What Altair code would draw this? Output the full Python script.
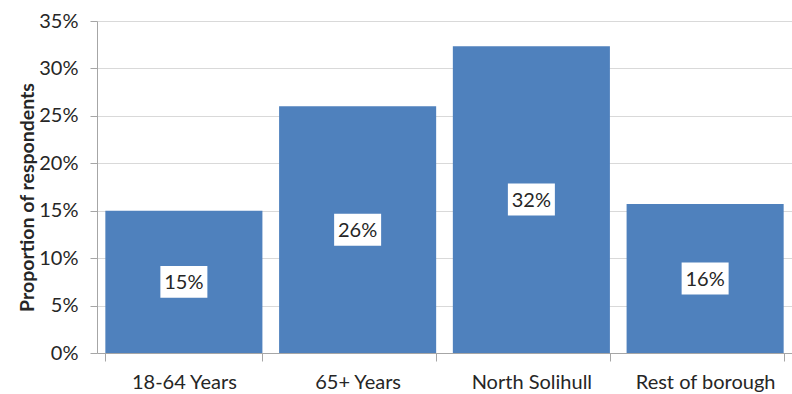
import altair as alt
import pandas as pd

# Survey results by respondent group
groups = ["18-64 Years", "65+ Years", "North Solihull", "Rest of borough"]
shares = [0.15, 0.26, 0.3235, 0.157]

df = pd.DataFrame({"group": groups, "share": shares})
df["mid"] = df["share"] / 2

FONT = "Lato"
BLUE = "#4F81BD"
TEXT = "#262626"

x_enc = alt.X(
    "group:N",
    sort=groups,
    title=None,
    scale=alt.Scale(paddingInner=0.096, paddingOuter=0.048),
    axis=alt.Axis(
        labelAngle=0,
        tickBand="extent",
        tickSize=8,
        labelPadding=11,
        labelFontSize=20,
        labelColor=TEXT,
        domainColor="#A6A6A6",
        tickColor="#A6A6A6",
        grid=False,
    ),
)

bars = alt.Chart(df).mark_bar(color=BLUE).encode(
    x=x_enc,
    y=alt.Y(
        "share:Q",
        title="Proportion of respondents",
        scale=alt.Scale(domain=[0, 0.35], nice=False),
        axis=alt.Axis(
            format=".0%",
            values=[0, 0.05, 0.10, 0.15, 0.20, 0.25, 0.30, 0.35],
            tickSize=7,
            labelPadding=12,
            labelFontSize=20,
            labelColor=TEXT,
            titleFontSize=19.5,
            titleFontWeight="bold",
            titleColor=TEXT,
            titlePadding=1,
            titleY=176,
            domainColor="#A6A6A6",
            tickColor="#A6A6A6",
            gridColor="#D9D9D9",
        ),
    ),
)

# White label boxes centred in each bar
boxes = alt.Chart(df).mark_point(
    shape="M-1,-0.68 L1,-0.68 L1,0.68 L-1,0.68 Z",
    filled=True,
    fill="white",
    opacity=1,
    size=47 * 47,
).encode(x=alt.X("group:N", sort=groups), y="mid:Q")

labels = alt.Chart(df).mark_text(
    font=FONT, fontSize=20, color=TEXT, baseline="middle", dy=1
).encode(
    x=alt.X("group:N", sort=groups),
    y="mid:Q",
    text=alt.Text("share:Q", format=".0%"),
)

chart = (
    alt.layer(bars, boxes, labels)
    .properties(
        width=695,
        height=332,
        autosize=alt.AutoSizeParams(type="none"),
        padding={"left": 97, "top": 21, "right": 0, "bottom": 41},
        background="white",
    )
    .configure_view(stroke=None)
    .configure_axis(labelFont=FONT, titleFont=FONT)
)

chart.save("out.html", embed_options={"renderer": "svg", "actions": False})
